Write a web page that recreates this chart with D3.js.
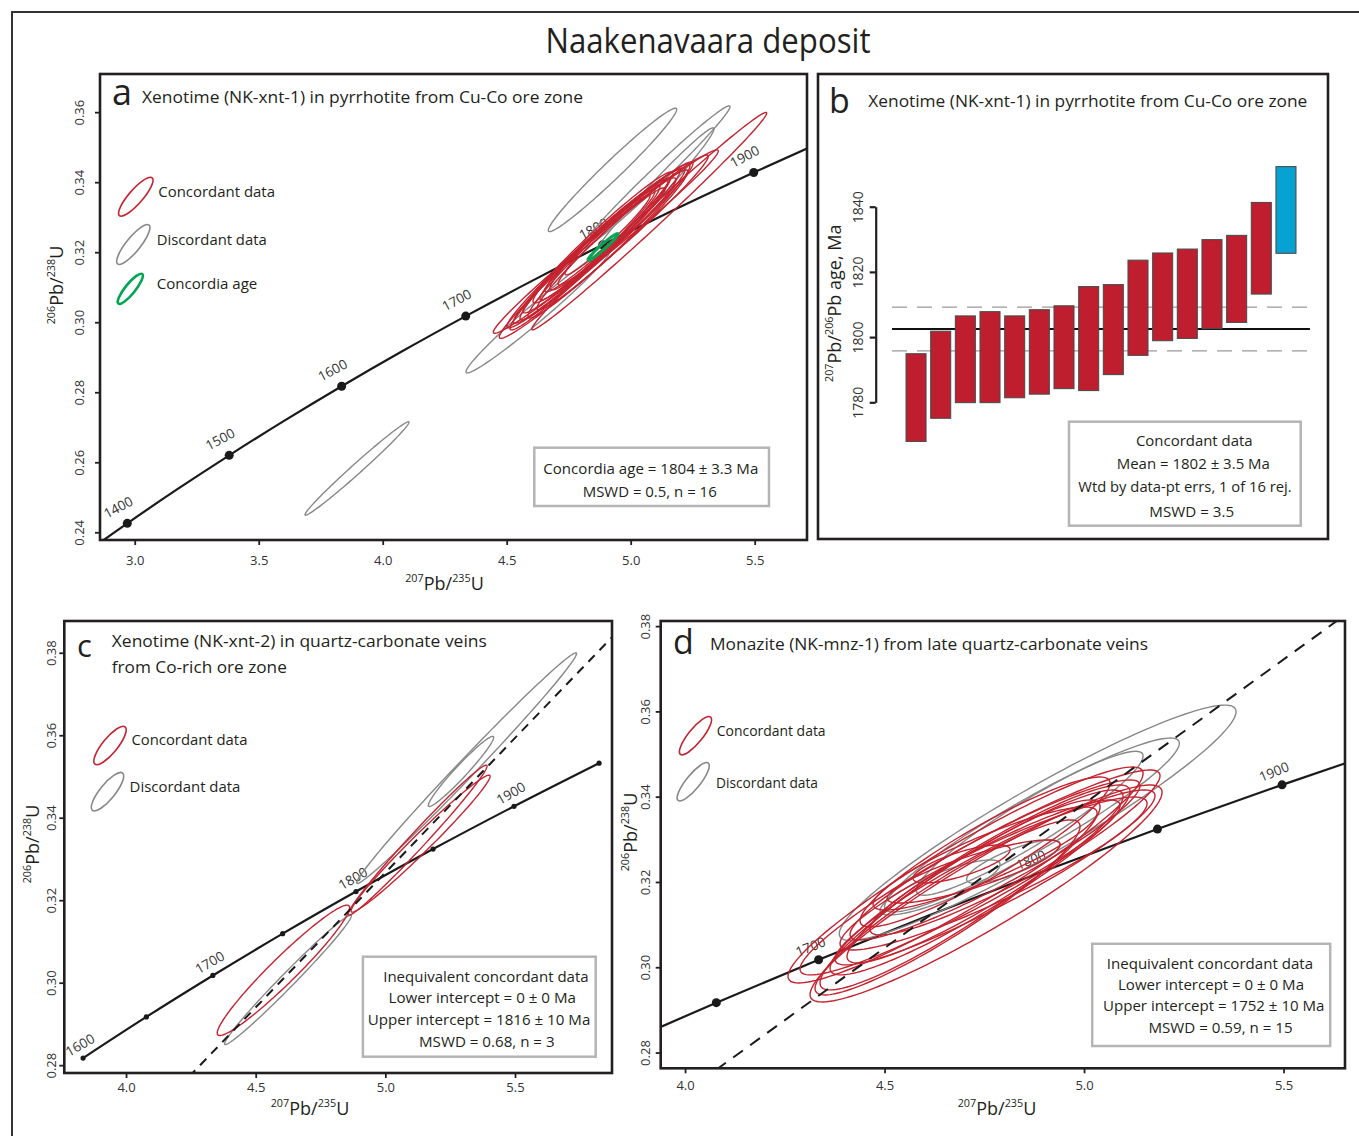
<!DOCTYPE html>
<html><head><meta charset="utf-8">
<script src="https://cdn.jsdelivr.net/npm/d3@7"></script>
<style>
body{margin:0;background:#fff}
svg text{font-family:"Open Sans",sans-serif}
</style>
</head><body>
<svg id="chart" width="1359" height="1136"></svg>
<script>
// ---------------- DATA ----------------
// Concordia reference table (age in Ma, 207Pb/235U, 206Pb/238U)
const concAge = [1300,1350,1400,1450,1500,1550,1600,1650,1700,1750,1800,1850,1900,1950,2000];
const concX = [2.5977,2.7793,2.9701,3.1705,3.3810,3.6021,3.8344,4.0784,4.3348,4.6040,4.8869,5.1840,5.4962,5.8241,6.1685];
const concY = [0.22343,0.23296,0.24256,0.25224,0.26199,0.27181,0.28172,0.29170,0.30175,0.31189,0.32210,0.33240,0.34277,0.35323,0.36377];

// Ellipses: [207Pb/235U, 2s, 206Pb/238U, 2s, rho]
const aConcordant = [
 [5.0746,0.4738,0.32886,0.03106,0.99364],
 [4.8996,0.4536,0.32303,0.02620,0.98802],
 [4.8915,0.4214,0.32160,0.02620,0.98484],
 [4.8762,0.3750,0.32209,0.02371,0.98121],
 [4.8629,0.3359,0.32160,0.02191,0.98099],
 [4.8681,0.3024,0.32280,0.02014,0.97709],
 [4.8944,0.2883,0.32337,0.01786,0.97269],
 [4.9024,0.2480,0.32466,0.01600,0.97637],
 [4.8661,0.2319,0.32209,0.01571,0.97433],
 [4.8359,0.2823,0.31994,0.01929,0.97438],
 [4.9468,0.2722,0.32666,0.01743,0.97048],
 [4.9226,0.2157,0.32451,0.01386,0.97518],
 [4.9125,0.3266,0.32323,0.02200,0.97688],
 [4.8359,0.3226,0.31951,0.02171,0.98006],
 [4.9065,0.1714,0.32494,0.01143,0.97116],
 [4.9266,0.3044,0.32351,0.02000,0.97703]
];
const aDiscordant = [
 [3.8964,0.2097,0.25823,0.01334,0.98965],
 [4.9266,0.2589,0.34351,0.01763,0.97953],
 [5.0980,0.3024,0.34123,0.02057,0.98813],
 [5.0859,0.2500,0.33637,0.01914,0.98456],
 [4.6262,0.2903,0.30309,0.01757,0.98146]
];
const aConcordiaAge = [[4.8883,0.0605,0.32151,0.0038,0.96840]];

const cConcordant = [
 [4.6070,0.2553,0.30299,0.01581,0.96083],
 [5.1242,0.2680,0.33456,0.01819,0.98770],
 [5.1358,0.2680,0.33371,0.01661,0.98298]
];
const cDiscordant = [
 [4.6244,0.2445,0.30068,0.01569,0.98806],
 [5.3135,0.4238,0.35202,0.02796,0.99360],
 [5.2916,0.1261,0.35122,0.00851,0.96855]
];
const cDiscordiaX = [4.20, 5.90];
const cDiscordiaY = [0.27440, 0.38547];

const dConcordant = [
 [4.7030,0.4449,0.32164,0.02532,0.93944],
 [4.7544,0.4411,0.31730,0.02544,0.93177],
 [4.7393,0.4511,0.32223,0.02403,0.94281],
 [4.7732,0.3847,0.32199,0.01794,0.91502],
 [4.7519,0.3459,0.32129,0.02028,0.92653],
 [4.7519,0.3133,0.32703,0.01758,0.91753],
 [4.7519,0.2807,0.32551,0.01208,0.88653],
 [4.7231,0.2168,0.32246,0.00739,0.84656],
 [4.6930,0.1216,0.32422,0.00445,0.75109],
 [4.6892,0.3509,0.31695,0.02227,0.92679],
 [4.7393,0.3759,0.32047,0.02227,0.92966],
 [4.6579,0.3321,0.31402,0.02052,0.92601],
 [4.7769,0.3634,0.32516,0.01876,0.93033],
 [4.7769,0.4010,0.32106,0.02052,0.93280],
 [4.7769,0.3133,0.32340,0.01583,0.91730]
];
const dDiscordant = [
 [4.8837,0.4972,0.33388,0.02760,0.94319],
 [4.8694,0.3694,0.33336,0.02040,0.93933],
 [4.8639,0.2840,0.33376,0.01688,0.93409],
 [4.8228,0.1170,0.32476,0.00509,0.80491],
 [4.6391,0.1504,0.31871,0.00645,0.83694]
];
const dDiscordiaX = [3.95, 5.70];
const dDiscordiaY = [0.26729, 0.38571];

// Panel b: 207Pb/206Pb ages (Ma), box bottoms and tops
const bAgeLow  = [1768.0,1775.1,1779.9,1779.9,1781.4,1782.5,1784.2,1783.6,1788.5,1794.4,1798.9,1799.6,1802.6,1804.5,1813.2,1825.7];
const bAgeHigh = [1794.9,1801.8,1806.5,1807.8,1806.5,1808.4,1809.6,1815.5,1816.1,1823.6,1825.8,1827.0,1829.9,1831.2,1841.3,1852.3];
const bRejected = [false,false,false,false,false,false,false,false,false,false,false,false,false,false,false,true];
const bMean = 1802.5, bMeanLow = 1795.8, bMeanHigh = 1809.2;

// Tick values
const aXTicks = [3.0,3.5,4.0,4.5,5.0,5.5];
const aYTicks = [0.24,0.26,0.28,0.30,0.32,0.34,0.36];
const bYTicks = [1780,1800,1820,1840];
const cXTicks = [4.0,4.5,5.0,5.5];
const cYTicks = [0.28,0.30,0.32,0.34,0.36,0.38];
const dXTicks = [4.0,4.5,5.0,5.5];
const dYTicks = [0.28,0.30,0.32,0.34,0.36,0.38];

// ---------------- DRAWING ----------------
const FONT = '"Open Sans", sans-serif';
const INK = "#231f20";
const RED = "#c4232f";
const GRAY = "#878787";
const GREEN = "#00a651";
const svg = d3.select("#chart");

function label(x, y, str, size, o = {}) {
  const t = svg.append("text").attr("x", x).attr("y", y).text(str)
    .style("font-size", size + "px").attr("text-anchor", o.anchor || "start")
    .attr("fill", o.fill || INK);
  if (o.len) t.attr("textLength", o.len).attr("lengthAdjust", "spacingAndGlyphs");
  return t;
}
function supLabel(x, y, parts, size, rot) {
  const t = svg.append("text").attr("transform", `translate(${x},${y}) rotate(${rot || 0})`)
    .attr("text-anchor", "middle").attr("fill", INK).style("font-size", size + "px");
  let shift = 0;
  parts.forEach(p => {
    const sup = /^\d+$/.test(p);
    const target = sup ? -0.42 * size : 0;
    t.append("tspan").attr("dy", target - shift).style("font-size", (sup ? size * 0.6 : size) + "px").text(p);
    shift = target;
  });
  return t;
}
function legendIcon(cx, cy, rx, ry, ang, color, sw) {
  svg.append("ellipse").attr("rx", rx).attr("ry", ry)
    .attr("transform", `translate(${cx},${cy}) rotate(${ang})`)
    .attr("fill", "none").attr("stroke", color).attr("stroke-width", sw);
}
function box(x, y, w, h) {
  svg.append("rect").attr("x", x).attr("y", y).attr("width", w).attr("height", h)
    .attr("fill", "#fff").attr("stroke", "#b5b5b5").attr("stroke-width", 2.5);
}

// outer frame
svg.append("rect").attr("x", 12).attr("y", 12).attr("width", 1370).attr("height", 1160)
  .attr("fill", "none").attr("stroke", "#333").attr("stroke-width", 2);
label(708, 53, "Naakenavaara deposit", 34, {anchor: "middle", len: 325});

function ellipsePath(e, xs, ys) {
  const [cx, sx, cy, sy, r] = e;
  const k = Math.sqrt(1 - r * r);
  const pts = d3.range(0, 145).map(i => {
    const t = i / 144 * 2 * Math.PI;
    return [xs(cx + sx * Math.cos(t)), ys(cy + sy * (r * Math.cos(t) + k * Math.sin(t)))];
  });
  return d3.line()(pts) + "Z";
}

function concordiaPanel(p) {
  const xs = d3.scaleLinear().domain(p.xd).range([p.x0, p.x1]);
  const ys = d3.scaleLinear().domain(p.yd).range([p.y1, p.y0]);
  const clipId = "clip" + p.id;
  svg.append("clipPath").attr("id", clipId).append("rect")
    .attr("x", p.x0).attr("y", p.y0).attr("width", p.x1 - p.x0).attr("height", p.y1 - p.y0);
  const g = svg.append("g");
  const plot = g.append("g").attr("clip-path", `url(#${clipId})`);

  // concordia curve
  const idx = concAge.map((a, i) => i).filter(i => concAge[i] >= p.ageMin && concAge[i] <= p.ageMax);
  plot.append("path")
    .attr("d", d3.line().curve(d3.curveMonotoneX)(idx.map(i => [xs(concX[i]), ys(concY[i])])))
    .attr("fill", "none").attr("stroke", "#1a1a1a").attr("stroke-width", 2.2);
  plot.selectAll(null).data(p.dotAges).enter().append("circle")
    .attr("cx", a => xs(concX[concAge.indexOf(a)]))
    .attr("cy", a => ys(concY[concAge.indexOf(a)]))
    .attr("r", p.dotR).attr("fill", "#1a1a1a");
  plot.selectAll(null).data(p.labelAges).enter().append("text")
    .attr("transform", a => `translate(${xs(concX[concAge.indexOf(a)]) + p.lab[0]},${ys(concY[concAge.indexOf(a)]) + p.lab[1]}) rotate(${p.angle})`)
    .attr("text-anchor", "middle").attr("dy", "0.35em").attr("fill", "#333")
    .style("font-size", "13.5px").text(a => a);

  // ellipses
  const groups = [[p.disc, GRAY, 1.4], [p.conc, RED, 1.4], [p.age || [], GREEN, 3]];
  groups.forEach(([arr, col, sw]) => {
    plot.selectAll(null).data(arr).enter().append("path")
      .attr("d", e => ellipsePath(e, xs, ys))
      .attr("fill", "none").attr("stroke", col).attr("stroke-width", sw);
  });

  // discordia
  if (p.discX) {
    plot.append("path")
      .attr("d", d3.line()(p.discX.map((v, i) => [xs(v), ys(p.discY[i])])))
      .attr("fill", "none").attr("stroke", "#1a1a1a").attr("stroke-width", 2)
      .attr("stroke-dasharray", p.dash);
  }

  // axes
  const xa = g.append("g").attr("transform", `translate(0,${p.y1})`)
    .call(d3.axisBottom(xs).tickValues(p.xt).tickFormat(d3.format(".1f")).tickSize(5).tickSizeOuter(0));
  xa.select(".domain").remove();
  xa.attr("font-family", FONT).attr("font-size", 13);
  xa.selectAll("line").attr("stroke", INK).attr("stroke-width", 1.8);
  xa.selectAll("text").attr("y", p.xlab).attr("dy", "0.35em").attr("fill", "#333");

  const ya = g.append("g").attr("transform", `translate(${p.x0},0)`)
    .call(d3.axisLeft(ys).tickValues(p.yt).tickFormat(d3.format(".2f")).tickSize(5).tickSizeOuter(0));
  ya.select(".domain").remove();
  ya.attr("font-family", FONT).attr("font-size", 13);
  ya.selectAll("line").attr("stroke", INK).attr("stroke-width", 1.8);
  ya.selectAll("text").attr("transform", "rotate(-90)").attr("x", 0).attr("y", -p.ylab)
    .attr("dy", "0.35em").attr("text-anchor", "middle").attr("fill", "#333");

  g.append("rect").attr("x", p.x0).attr("y", p.y0).attr("width", p.x1 - p.x0).attr("height", p.y1 - p.y0)
    .attr("fill", "none").attr("stroke", INK).attr("stroke-width", 2.6);
}

// Panel a
concordiaPanel({id: "a", x0: 100, x1: 807, y0: 74, y1: 540, xd: [2.86, 5.711], yd: [0.2378, 0.3709],
  xt: aXTicks, yt: aYTicks, xlab: 20, ylab: 20.7, ageMin: 1300, ageMax: 2000,
  dotAges: [1400,1500,1600,1700,1800,1900], labelAges: [1400,1500,1600,1700,1800,1900],
  dotR: 4.5, lab: [-9, -16], angle: -28,
  conc: aConcordant, disc: aDiscordant, age: aConcordiaAge});

// Panel c
concordiaPanel({id: "c", x0: 64.3, x1: 612, y0: 621, y1: 1073, xd: [3.762, 5.874], yd: [0.2781, 0.3877],
  xt: cXTicks, yt: cYTicks, xlab: 14.5, ylab: 12.8, ageMin: 1600, ageMax: 1950,
  dotAges: [1600,1650,1700,1750,1800,1850,1900,1950], labelAges: [1600,1700,1800,1900],
  dotR: 2.6, lab: [-3, -13], angle: -30,
  conc: cConcordant, disc: cDiscordant, discX: cDiscordiaX, discY: cDiscordiaY, dash: "9,7"});

// Panel d
concordiaPanel({id: "d", x0: 660.7, x1: 1345, y0: 621, y1: 1068.3, xd: [3.939, 5.654], yd: [0.2763, 0.3812],
  xt: dXTicks, yt: dYTicks, xlab: 17, ylab: 15.7, ageMin: 1550, ageMax: 2000,
  dotAges: [1650,1700,1850,1900], labelAges: [1700,1800,1900],
  dotR: 4.5, lab: [-8, -13], angle: -22,
  conc: dConcordant, disc: dDiscordant, discX: dDiscordiaX, discY: dDiscordiaY, dash: "12,9"});

// Panel b
(function () {
  const x0 = 818, x1 = 1328, y0 = 74, y1 = 539;
  const ys = d3.scaleLinear().domain([1780, 1840]).range([402.3, 206.7]);
  const xb = d3.scaleBand().domain(d3.range(bAgeLow.length)).range([903.7, 1298.3]).paddingInner(0.19).paddingOuter(0.095);
  const g = svg.append("g");
  const lx0 = xb(0) - 14, lx1 = xb(bAgeLow.length - 1) + xb.bandwidth() + 14;
  [bMeanLow, bMeanHigh].forEach(v => g.append("line").attr("x1", lx0).attr("x2", lx1)
    .attr("y1", ys(v)).attr("y2", ys(v)).attr("stroke", "#999").attr("stroke-width", 1.3)
    .attr("stroke-dasharray", "15,10"));
  g.append("line").attr("x1", lx0).attr("x2", lx1).attr("y1", ys(bMean)).attr("y2", ys(bMean))
    .attr("stroke", "#111").attr("stroke-width", 2);
  g.selectAll(null).data(bAgeLow).enter().append("rect")
    .attr("x", (d, i) => xb(i)).attr("width", xb.bandwidth())
    .attr("y", (d, i) => ys(bAgeHigh[i])).attr("height", (d, i) => ys(bAgeLow[i]) - ys(bAgeHigh[i]))
    .attr("fill", (d, i) => bRejected[i] ? "#06a2d1" : "#be1e2d")
    .attr("stroke", "#4d4d4d").attr("stroke-width", 1.1);
  const ya = g.append("g").attr("transform", "translate(875.7,0)")
    .call(d3.axisLeft(ys).tickValues(bYTicks).tickFormat(d3.format("d")).tickSize(6).tickSizeOuter(0));
  ya.attr("font-family", FONT).attr("font-size", 14);
  ya.select(".domain").attr("stroke", INK).attr("stroke-width", 2.2);
  ya.selectAll("line").attr("stroke", INK).attr("stroke-width", 2.2);
  ya.selectAll("text").attr("transform", "rotate(-90)").attr("x", 0).attr("y", -17.5)
    .attr("dy", "0.35em").attr("text-anchor", "middle").attr("fill", "#333");
  g.append("rect").attr("x", x0).attr("y", y0).attr("width", x1 - x0).attr("height", y1 - y0)
    .attr("fill", "none").attr("stroke", INK).attr("stroke-width", 2.6);
})();

// ----- panel texts -----
// a
label(112, 105, "a", 36);
label(142, 102.5, "Xenotime (NK-xnt-1) in pyrrhotite from Cu-Co ore zone", 16, {len: 441});
legendIcon(135.8, 196.7, 25, 7, -49, RED, 1.6);
legendIcon(133.3, 244.5, 25, 7, -51, GRAY, 1.6);
legendIcon(130.3, 288.8, 19, 5, -51, GREEN, 2.6);
label(158.3, 197, "Concordant data", 15, {len: 116.7});
label(156.7, 245, "Discordant data", 15, {len: 110});
label(156.7, 289, "Concordia age", 15, {len: 100.6});
box(534.3, 447.7, 234.7, 58.3);
label(650.8, 474, "Concordia age = 1804 ± 3.3 Ma", 14.5, {anchor: "middle", len: 215});
label(649.7, 496.7, "MSWD = 0.5, n = 16", 14.5, {anchor: "middle", len: 134});
supLabel(63, 285, ["206", "Pb/", "238", "U"], 18, -90);
supLabel(444.5, 590, ["207", "Pb/", "235", "U"], 18, 0);

// b
label(829, 112.5, "b", 34);
label(868.3, 107.3, "Xenotime (NK-xnt-1) in pyrrhotite from Cu-Co ore zone", 16, {len: 439});
box(1069, 421.7, 231.7, 104);
label(1194.3, 445.7, "Concordant data", 14.5, {anchor: "middle", len: 116.7});
label(1193.3, 469, "Mean = 1802 ± 3.5 Ma", 14.5, {anchor: "middle", len: 153.3});
label(1185, 492.3, "Wtd by data-pt errs, 1 of 16 rej.", 14.5, {anchor: "middle", len: 213.4});
label(1191.7, 516.7, "MSWD = 3.5", 14.5, {anchor: "middle", len: 84.7});
supLabel(841, 303.3, ["207", "Pb/", "206", "Pb age, Ma"], 18, -90);

// c
label(77, 657, "c", 31);
label(111.8, 646.7, "Xenotime (NK-xnt-2) in quartz-carbonate veins", 16, {len: 375});
label(111.8, 673.3, "from Co-rich ore zone", 16, {len: 175});
legendIcon(110, 745.5, 24, 7.5, -51, RED, 1.6);
legendIcon(107.5, 791.7, 24, 7.5, -51, GRAY, 1.6);
label(131.4, 745, "Concordant data", 15, {len: 116});
label(129.6, 791.7, "Discordant data", 15, {len: 110.8});
box(362.9, 956.7, 232.8, 100);
label(485.9, 981.7, "Inequivalent concordant data", 14.5, {anchor: "middle", len: 205.4});
label(482.3, 1002.7, "Lower intercept = 0 ± 0 Ma", 14.5, {anchor: "middle", len: 187.4});
label(479.1, 1025, "Upper intercept = 1816 ± 10 Ma", 14.5, {anchor: "middle", len: 222.5});
label(486.8, 1047.3, "MSWD = 0.68, n = 3", 14.5, {anchor: "middle", len: 135.6});
supLabel(39, 844, ["206", "Pb/", "238", "U"], 18, -90);
supLabel(310, 1115, ["207", "Pb/", "235", "U"], 18, 0);

// d
label(673, 654, "d", 34);
label(710, 650, "Monazite (NK-mnz-1) from late quartz-carbonate veins", 16, {len: 438});
legendIcon(695.5, 735.7, 24, 7, -51, RED, 1.6);
legendIcon(693.2, 781.8, 24, 7, -51, GRAY, 1.6);
label(716.8, 736.2, "Concordant data", 14.5, {len: 108.8});
label(716, 788, "Discordant data", 14.5, {len: 102});
box(1092.2, 943.8, 238, 102.2);
label(1209.9, 968.9, "Inequivalent concordant data", 14.5, {anchor: "middle", len: 206.3});
label(1211, 989.7, "Lower intercept = 0 ± 0 Ma", 14.5, {anchor: "middle", len: 186});
label(1213.7, 1010.8, "Upper intercept = 1752 ± 10 Ma", 14.5, {anchor: "middle", len: 221.4});
label(1220.5, 1032.6, "MSWD = 0.59, n = 15", 14.5, {anchor: "middle", len: 144.2});
supLabel(637, 832, ["206", "Pb/", "238", "U"], 18, -90);
supLabel(997, 1115, ["207", "Pb/", "235", "U"], 18, 0);
</script>
</body></html>
